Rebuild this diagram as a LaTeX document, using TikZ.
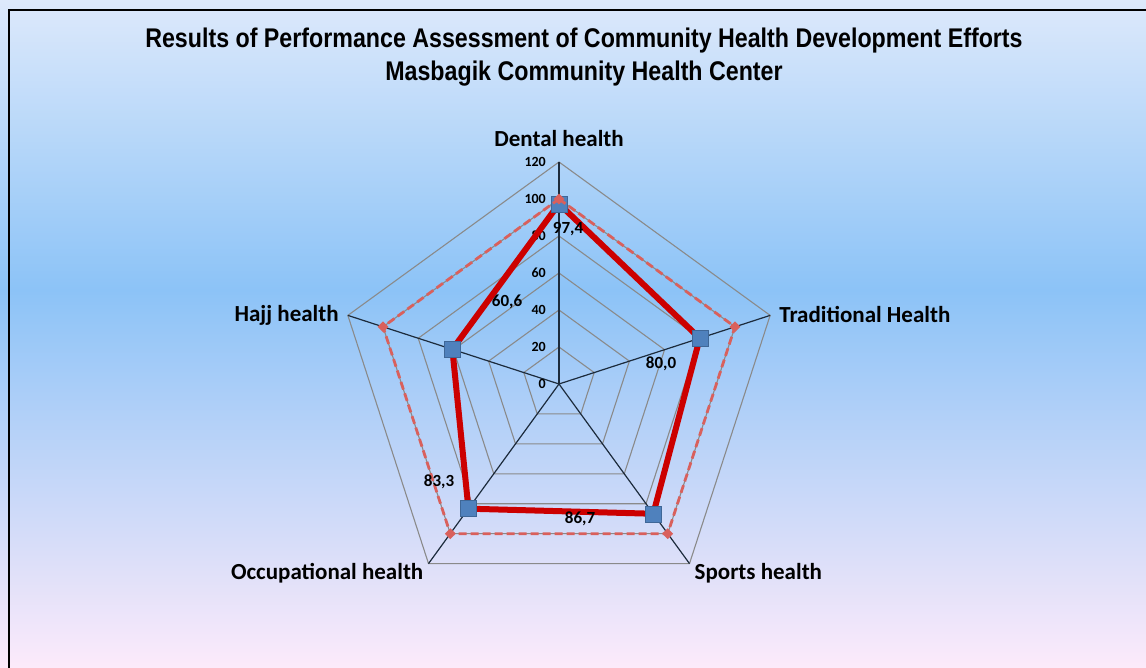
\documentclass[tikz,border=0pt]{standalone}
\usepackage{fontspec}
\setmainfont{Carlito}
\newfontfamily\titlefont[FakeStretch=0.86]{Liberation Sans}
\definecolor{bgtop}{HTML}{DDE9FB}
\definecolor{bgmid}{HTML}{8CC3F7}
\definecolor{bgbot}{HTML}{FCEAFA}
\definecolor{gridgray}{HTML}{8A8A8A}
\definecolor{axisblue}{HTML}{1C2B3C}
\definecolor{resultred}{HTML}{CC0000}
\definecolor{targetred}{HTML}{D9605C}
\definecolor{markblue}{HTML}{4F81BD}
\tikzset{
	charttitle/.style={font=\titlefont\bfseries\fontsize{27}{31}\selectfont,inner sep=0pt},
	axislabel/.style={font=\bfseries\fontsize{23}{27}\selectfont,inner sep=0pt},
	ticklabel/.style={font=\bfseries\fontsize{14}{16}\selectfont,inner sep=0pt,anchor=east},
	valuelabel/.style={font=\bfseries\fontsize{17}{20}\selectfont,inner sep=0pt},
	gridline/.style={gridgray,line width=1.1pt},
	axisline/.style={axisblue,line width=1.2pt},
	resultline/.style={resultred,line width=6pt,line join=miter},
	targetline/.style={targetred,line width=2.8pt,dash pattern=on 8pt off 4pt},
	sqmark/.style={fill=markblue,draw=markblue!80!black,line width=.4pt,minimum size=16pt,inner sep=0pt},
	dmmark/.style={diamond,fill=targetred,minimum size=11pt,inner sep=0pt}
}
\usetikzlibrary{shapes.geometric}
\begin{document}
\begin{tikzpicture}[x=1pt,y=1pt]
	\useasboundingbox (0,0) rectangle (1146,667);
	% background and frame
	\shade[top color=bgtop,bottom color=bgmid] (0,377) rectangle (1146,667);
	\shade[top color=bgmid,bottom color=bgbot] (0,0) rectangle (1146,377.5);
	\draw[line width=1.3pt] (9,-10) rectangle (1160,657);
	\node[charttitle] (title) at (584,626) {Results of Performance Assessment of Community Health Development Efforts};
	\node[charttitle] (subtitle) at (584,593) {Masbagik Community Health Center};
	\begin{scope}[shift={(559,283)}]
		\def\k{1.85}
		% grid
		\foreach \r in {20,40,...,120}
			\draw[gridline] (90:\r*\k) -- (18:\r*\k) -- (-54:\r*\k) -- (-126:\r*\k) -- (162:\r*\k) -- cycle;
		\coordinate (o) at (0,0);
		\coordinate (a1) at (90:120*\k);
		\coordinate (a2) at (18:120*\k);
		\coordinate (a3) at (-54:120*\k);
		\coordinate (a4) at (-126:120*\k);
		\coordinate (a5) at (162:120*\k);
		\foreach \a in {a1,a2,a3,a4,a5}
			\draw[axisline] (o) -- (\a);
		\foreach \v in {0,20,...,120}
			\node[ticklabel] (tick\v) at (-13,\v*\k) {\v};
		\node[axislabel,anchor=south] (dental) at ([yshift=15pt]a1) {Dental health};
		\node[axislabel,anchor=west] (traditional) at ([xshift=9pt,yshift=1pt]a2) {Traditional Health};
		\node[axislabel,anchor=north west] (sports) at ([xshift=5pt]a3) {Sports health};
		\node[axislabel,anchor=north east] (occupational) at ([xshift=-5pt]a4) {Occupational health};
		\node[axislabel,anchor=east] (hajj) at ([xshift=-9pt]a5) {Hajj health};
		% results
		\coordinate (r1) at (90:97.4*\k);
		\coordinate (r2) at (18:80*\k);
		\coordinate (r3) at (-54:86.7*\k);
		\coordinate (r4) at (-126:83.3*\k);
		\coordinate (r5) at (162:60.6*\k);
		\draw[resultline] (r1) -- (r2) -- (r3) -- (r4) -- (r5) -- cycle;
		\foreach \p in {r1,r2,r3,r4,r5}
			\node[sqmark] (m\p) at (\p) {};
		% target
		\coordinate (t1) at (90:100*\k);
		\coordinate (t2) at (18:100*\k);
		\coordinate (t3) at (-54:100*\k);
		\coordinate (t4) at (-126:100*\k);
		\coordinate (t5) at (162:100*\k);
		\draw[targetline] (t1) -- (t2) -- (t3) -- (t4) -- (t5) -- cycle;
		\foreach \p in {t1,t2,t3,t4,t5}
			\node[dmmark] (m\p) at (\p) {};
		\node[valuelabel] (v1) at (9,155) {97,4};
		\node[valuelabel] (v2) at (102,20) {80,0};
		\node[valuelabel] (v3) at (21,-135) {86,7};
		\node[valuelabel] (v4) at (-120,-98) {83,3};
		\node[valuelabel] (v5) at (-52,82) {60,6};
	\end{scope}
\end{tikzpicture}
\end{document}
